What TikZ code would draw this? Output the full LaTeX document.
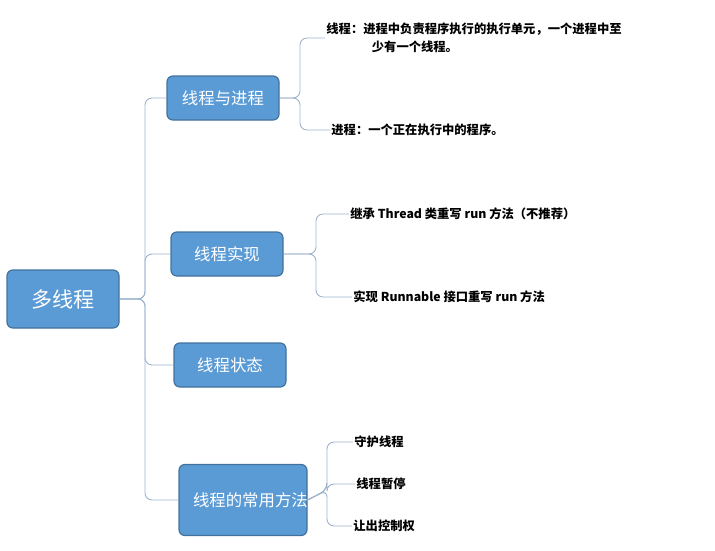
\documentclass[tikz,border=0pt]{standalone}
\usepackage{fontspec}
\setmainfont{Noto Sans CJK SC}
\definecolor{boxfill}{HTML}{5B9BD5}
\definecolor{boxline}{HTML}{41719C}
\definecolor{linkc}{HTML}{9DB3CF}
\tikzset{
  topic/.style={draw=boxline, line width=1pt, fill=boxfill, rounded corners=5pt, text=white, font=\fontsize{14}{16}\selectfont, minimum width=112*0.03cm, minimum height=44*0.03cm, align=center, inner sep=2pt},
  leaf/.style={anchor=west, font=\fontsize{10.5}{15}\selectfont\bfseries, inner sep=1pt, align=left},
  link/.style={draw=linkc, line width=0.8pt, rounded corners=6pt}
}
\begin{document}
\begin{tikzpicture}[x=0.03cm, y=-0.03cm]
    \useasboundingbox (0,0) rectangle (715,551);

    % topics
    \node[topic, minimum width=112*0.03cm, minimum height=58*0.03cm, font=\fontsize{18}{20}\selectfont] (mt) at (63,299) {多线程};
    \node[topic] (tp) at (223,98) {线程与进程};
    \node[topic] (ti) at (227,254) {线程实现};
    \node[topic] (ts) at (230,365) {线程状态};
    \node[topic, minimum width=128*0.03cm, minimum height=71*0.03cm, text width=100*0.03cm] (tm) at (243,500) {线程的常用方法};

    % leaves
    \node[leaf] (l1) at (325,38) {线程：进程中负责程序执行的执行单元，一个进程中至\\\hspace{3.7em}少有一个线程。};
    \node[leaf] (l2) at (330,130) {进程：一个正在执行中的程序。};
    \node[leaf] (l3) at (349,214) {继承 Thread 类重写 run 方法（不推荐）};
    \node[leaf] (l4) at (352,297) {实现 Runnable 接口重写 run 方法};
    \node[leaf] (l5) at (353,442) {守护线程};
    \node[leaf] (l6) at (355,484) {线程暂停};
    \node[leaf] (l7) at (352,526) {让出控制权};

    % connectors
    \foreach \t in {tp,ti,ts,tm} {
        \draw[link] (mt.east) -- (145,299) |- (\t.west);
    }
    \foreach \l in {l1,l2} {
        \draw[link] (tp.east) -- (300,98) |- (\l.west);
    }
    \foreach \l in {l3,l4} {
        \draw[link] (ti.east) -- (316,254) |- (\l.west);
    }
    \foreach \l in {l5,l6,l7} {
        \draw[link] (tm.east) -- (327,490) |- (\l.west);
    }
\end{tikzpicture}
\end{document}
